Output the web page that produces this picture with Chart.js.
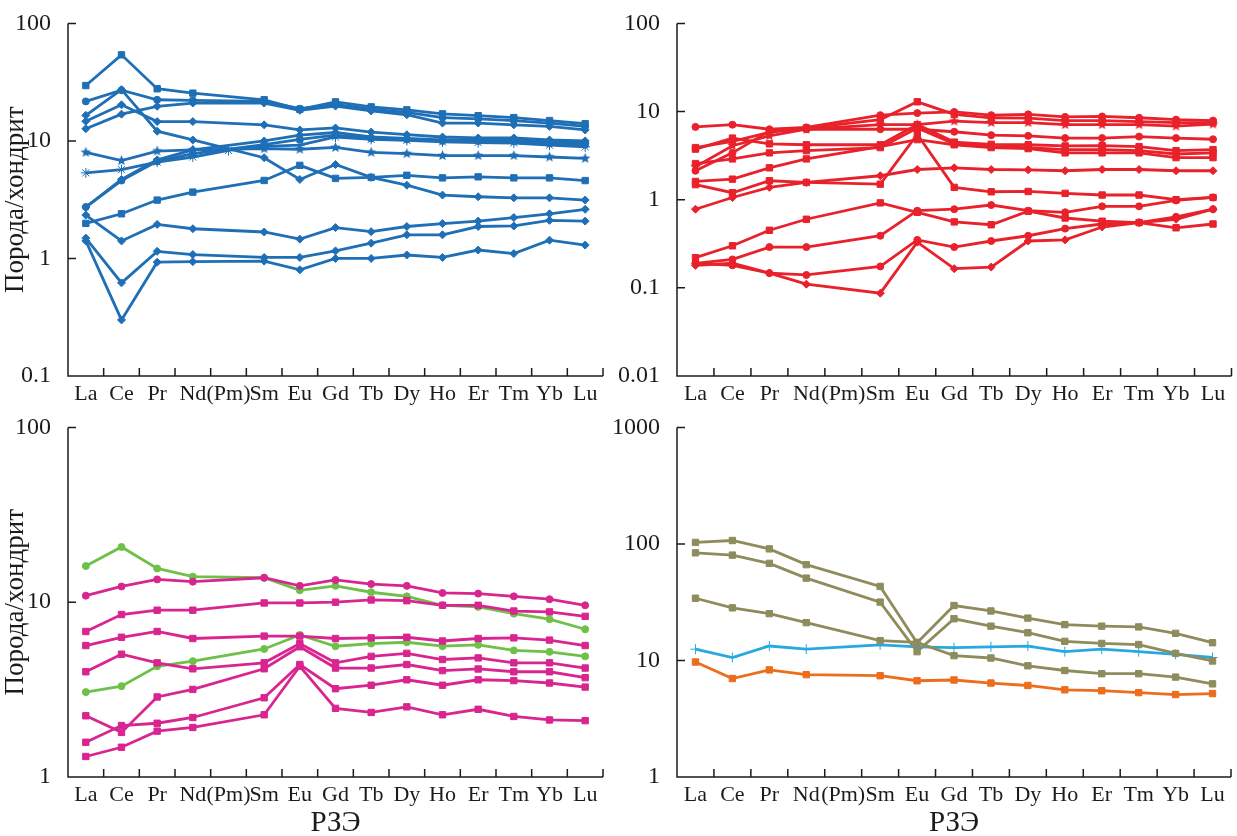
<!DOCTYPE html>
<html>
<head>
<meta charset="utf-8">
<script src="https://cdn.jsdelivr.net/npm/chart.js@4.4.0/dist/chart.umd.min.js"></script>
<style>
  html, body { margin: 0; padding: 0; background: #fff; }
  #wrap { position: relative; width: 1237px; height: 836px; overflow: hidden; }
  canvas { position: absolute; }
</style>
</head>
<body>
<div id="wrap">
  <canvas id="c1" width="620" height="412" style="left:0;top:0"></canvas>
  <canvas id="c2" width="637" height="412" style="left:600px;top:0"></canvas>
  <canvas id="c3" width="620" height="432" style="left:0;top:404px"></canvas>
  <canvas id="c4" width="637" height="432" style="left:600px;top:404px"></canvas>
</div>
<script>
// REE order, Pm is kept as an empty slot on the axis
const ree = ['La', 'Ce', 'Pr', 'Nd', '(Pm)', 'Sm', 'Eu', 'Gd', 'Tb', 'Dy', 'Ho', 'Er', 'Tm', 'Yb', 'Lu'];

const yTicksA = [0.1, 1, 10, 100];
const yTicksB = [0.01, 0.1, 1, 10, 100];
const yTicksC = [1, 10, 100];
const yTicksD = [1, 10, 100, 1000];

// panel 1 - blue samples
const blue1  = [29.6, 54, 27.8, 25.5, null, 22.4, 18.6, 21.5, 19.5, 18.4, 17.0, 16.4, 15.8, 14.9, 14.0];
const blue2  = [21.7, 27.0, 22.4, 22.1, null, 21.7, 18.8, 20.5, 18.6, 17.5, 15.8, 15.4, 14.9, 14.2, 13.3];
const blue3  = [12.7, 16.9, 19.7, 21.0, null, 21.0, 18.2, 19.8, 18.0, 16.7, 14.2, 14.2, 13.7, 13.3, 12.4];
const blue4  = [16.5, 27.3, 12.1, 10.2, null, 7.2, 4.7, 6.3, 4.9, 4.2, 3.46, 3.35, 3.28, 3.28, 3.14];
const blue5  = [14.7, 20.3, 14.6, 14.6, null, 13.7, 12.4, 12.9, 11.9, 11.3, 10.8, 10.6, 10.6, 10.2, 10.0];
const blue6  = [8.0, 6.8, 8.2, 8.4, null, 8.6, 8.5, 8.8, 8.0, 7.8, 7.5, 7.5, 7.5, 7.3, 7.1];
const blue7  = [5.35, 5.7, 6.6, 7.3, 8.3, 9.0, 9.2, 10.8, 10.3, 10.1, 9.8, 9.7, 9.6, 9.2, 8.9];
const blue8  = [2.74, 4.7, 6.9, 8.4, null, 10.0, 11.2, 11.8, 10.8, 10.5, 10.2, 10.2, 10.3, 9.8, 9.6];
const blue9  = [2.74, 4.6, 6.7, 7.8, null, 9.3, 10.3, 11.2, 10.5, 10.3, 10.0, 10.0, 9.9, 9.5, 9.3];
const blue10 = [1.99, 2.40, 3.14, 3.67, null, 4.61, 6.2, 4.8, 4.9, 5.1, 4.85, 4.95, 4.85, 4.85, 4.6];
const blue11 = [2.34, 1.41, 1.95, 1.79, null, 1.68, 1.46, 1.83, 1.69, 1.87, 1.98, 2.08, 2.23, 2.40, 2.62];
const blue12 = [1.49, 0.62, 1.15, 1.08, null, 1.02, 1.02, 1.16, 1.35, 1.59, 1.59, 1.87, 1.89, 2.11, 2.08];
const blue13 = [1.41, 0.30, 0.93, 0.94, null, 0.95, 0.80, 1.0, 1.0, 1.07, 1.02, 1.18, 1.10, 1.43, 1.30];

// panel 2 - red samples
const red1  = [6.7, 7.1, 6.3, 6.6, null, 9.1, 9.6, 9.9, 9.1, 9.3, 8.7, 8.8, 8.5, 8.1, 7.9];
const red2  = [3.9, 4.6, 5.8, 6.5, null, 8.1, 12.9, 9.3, 8.5, 8.4, 7.9, 7.9, 7.7, 7.5, 7.5];
const red3  = [2.36, 4.1, 5.3, 6.3, null, 7.1, 7.1, 7.8, 7.5, 7.5, 7.1, 7.1, 7.1, 6.85, 7.2];
const red4  = [2.13, 3.4, 6.0, 6.3, null, 6.3, 6.3, 5.9, 5.4, 5.3, 5.0, 5.0, 5.2, 5.0, 4.85];
const red5  = [3.75, 5.0, 4.3, 4.2, null, 4.2, 7.1, 4.5, 4.25, 4.2, 4.07, 4.1, 4.0, 3.6, 3.7];
const red6  = [2.57, 2.9, 3.4, 3.6, null, 3.9, 6.5, 4.3, 4.0, 3.9, 3.7, 3.7, 3.6, 3.3, 3.4];
const red7  = [1.61, 1.71, 2.3, 2.9, null, 4.0, 4.8, 4.2, 3.9, 3.8, 3.4, 3.4, 3.4, 3.0, 3.0];
const red8  = [1.48, 1.2, 1.64, 1.57, null, 1.5, 5.5, 1.38, 1.23, 1.24, 1.18, 1.13, 1.13, 1.0, 1.06];
const red9  = [0.78, 1.06, 1.38, 1.57, null, 1.87, 2.2, 2.3, 2.2, 2.18, 2.13, 2.2, 2.2, 2.13, 2.13];
const red10 = [0.22, 0.30, 0.45, 0.60, null, 0.92, 0.72, 0.56, 0.52, 0.74, 0.62, 0.57, 0.55, 0.48, 0.53];
const red11 = [0.19, 0.21, 0.29, 0.29, null, 0.39, 0.75, 0.78, 0.87, 0.75, 0.72, 0.84, 0.84, 0.98, 1.06];
const red12 = [0.19, 0.18, 0.147, 0.14, null, 0.175, 0.35, 0.29, 0.34, 0.39, 0.47, 0.53, 0.55, 0.64, 0.78];
const red13 = [0.18, 0.19, 0.147, 0.11, null, 0.087, 0.33, 0.165, 0.172, 0.34, 0.35, 0.49, 0.55, 0.60, 0.78];

// panel 3 - green and magenta samples
const green1 = [16.1, 20.7, 15.6, 14.0, null, 13.8, 11.7, 12.4, 11.4, 10.8, 9.6, 9.4, 8.6, 8.0, 7.0];
const green2 = [3.06, 3.31, 4.3, 4.6, null, 5.4, 6.5, 5.6, 5.8, 5.9, 5.6, 5.7, 5.3, 5.2, 4.9];
const mag1 = [10.9, 12.3, 13.5, 13.1, null, 13.8, 12.4, 13.4, 12.7, 12.4, 11.3, 11.2, 10.8, 10.4, 9.6];
const mag2 = [6.8, 8.5, 9.0, 9.0, null, 9.9, 9.9, 10.0, 10.3, 10.2, 9.6, 9.6, 8.9, 8.8, 8.3];
const mag3 = [5.65, 6.3, 6.8, 6.2, null, 6.4, 6.4, 6.2, 6.25, 6.3, 6.0, 6.2, 6.25, 6.07, 5.65];
const mag4 = [4.0, 5.04, 4.5, 4.16, null, 4.5, 5.8, 4.5, 4.9, 5.1, 4.7, 4.8, 4.5, 4.5, 4.2];
const mag5 = [2.24, 1.80, 2.87, 3.17, null, 4.16, 5.56, 4.2, 4.2, 4.4, 4.06, 4.15, 4.0, 4.0, 3.7];
const mag6 = [1.58, 1.97, 2.03, 2.19, null, 2.84, 4.4, 3.2, 3.35, 3.6, 3.35, 3.6, 3.56, 3.45, 3.27];
const mag7 = [1.31, 1.48, 1.83, 1.92, null, 2.27, 4.3, 2.47, 2.34, 2.52, 2.27, 2.44, 2.22, 2.12, 2.1];

// panel 4 - olive, cyan and orange samples
const olive1 = [103, 107, 90.7, 66.4, null, 43.2, 14.2, 29.6, 26.6, 23.1, 20.3, 19.7, 19.4, 17.1, 14.2];
const olive2 = [83.9, 80.2, 68.1, 50.9, null, 31.7, 11.9, 22.8, 19.7, 17.3, 14.6, 14.0, 13.7, 11.5, 9.9];
const olive3 = [34.2, 28.3, 25.2, 21.1, null, 14.8, 14.3, 11.0, 10.5, 9.0, 8.2, 7.7, 7.7, 7.2, 6.3];
const cyan1  = [12.5, 10.6, 13.3, 12.5, null, 13.6, 13.1, 12.9, 13.1, 13.3, 11.9, 12.5, 11.9, 11.3, 10.6];
const orange1 = [9.7, 7.0, 8.3, 7.55, null, 7.4, 6.7, 6.8, 6.4, 6.1, 5.6, 5.5, 5.3, 5.1, 5.2];

const SERIF = "'Liberation Serif', 'Times New Roman', serif";
const INK = '#1b1b1b';

const BLUE = '#1f6fb6';
const RED = '#e8212b';
const GREEN = '#6ec049';
const MAGENTA = '#d9258f';
const OLIVE = '#8e8c5c';
const CYAN = '#27a9df';
const ORANGE = '#ec6d1c';

// five pointed star marker
function starMarker(color, r) {
  const c = document.createElement('canvas');
  const s = Math.ceil(r * 2 + 2);
  c.width = c.height = s;
  const g = c.getContext('2d');
  g.fillStyle = color;
  g.beginPath();
  for (let i = 0; i < 10; i++) {
    const rad = i % 2 ? r * 0.45 : r;
    const ang = -Math.PI / 2 + i * Math.PI / 5;
    g.lineTo(s / 2 + rad * Math.cos(ang), s / 2 + rad * Math.sin(ang));
  }
  g.closePath();
  g.fill();
  return c;
}

function series(data, color, style, radius) {
  return {
    data: data,
    borderColor: color,
    backgroundColor: color,
    pointBackgroundColor: color,
    pointBorderColor: color,
    pointStyle: style,
    pointRadius: radius || 4,
    pointBorderWidth: 1,
    borderWidth: 2.8,
    spanGaps: true,
    tension: 0
  };
}

// axis lines with inward tick marks
const axisFrame = {
  id: 'axisFrame',
  afterDraw(chart) {
    const { ctx, chartArea: a, scales: { x, y } } = chart;
    ctx.save();
    ctx.strokeStyle = INK;
    ctx.lineWidth = 1.5;
    ctx.beginPath();
    ctx.moveTo(a.left, a.top);
    ctx.lineTo(a.left, a.bottom);
    ctx.lineTo(a.right, a.bottom);
    const n = x.getLabels().length;
    for (let i = 1; i <= n; i++) {
      const px = i < n ? (x.getPixelForValue(i - 1) + x.getPixelForValue(i)) / 2 : a.right;
      ctx.moveTo(px, a.bottom);
      ctx.lineTo(px, a.bottom - 8);
    }
    y.ticks.forEach(t => {
      const py = y.getPixelForValue(t.value);
      ctx.moveTo(a.left, py);
      ctx.lineTo(a.left + 8, py);
    });
    ctx.stroke();
    ctx.restore();
  }
};

function makePanel(id, datasets, cfg) {
  new Chart(document.getElementById(id), {
    type: 'line',
    data: { labels: ree, datasets: datasets },
    plugins: [axisFrame],
    options: {
      responsive: false,
      animation: false,
      layout: { padding: { top: cfg.padTop, right: cfg.padRight, left: 0, bottom: 0 } },
      plugins: { legend: { display: false }, tooltip: { enabled: false } },
      scales: {
        x: {
          type: 'category',
          offset: true,
          grid: { display: false },
          border: { display: false },
          ticks: {
            autoSkip: false, maxRotation: 0, minRotation: 0, padding: -3,
            color: INK, font: { family: SERIF, size: 22 }
          },
          title: {
            display: !!cfg.xTitle, text: cfg.xTitle || '', color: INK,
            font: { family: SERIF, size: 29, lineHeight: 0.9 }, padding: 0
          },
          afterFit: s => { s.height = cfg.xHeight; }
        },
        y: {
          type: 'logarithmic',
          min: cfg.yTicks[0],
          max: cfg.yTicks[cfg.yTicks.length - 1],
          grid: { display: false },
          border: { display: false },
          ticks: {
            padding: 9, color: INK, font: { family: SERIF, size: 24 },
            callback: v => String(v)
          },
          afterBuildTicks: s => { s.ticks = cfg.yTicks.map(v => ({ value: v })); },
          title: {
            display: !!cfg.yTitle, text: cfg.yTitle || '', color: INK,
            font: { family: SERIF, size: 27 }, padding: 0
          },
          afterFit: s => { s.width = cfg.yWidth; }
        }
      }
    }
  });
}

const blueStar = starMarker(BLUE, 5.5);
const redStar = starMarker(RED, 5.5);

makePanel('c1', [
  series(blue1, BLUE, 'rect', 4.5),
  series(blue2, BLUE, 'circle', 3.5),
  series(blue3, BLUE, 'rectRot'),
  series(blue4, BLUE, 'rectRot'),
  series(blue5, BLUE, 'rectRot'),
  series(blue6, BLUE, blueStar),
  series(blue7, BLUE, 'star', 5),
  series(blue8, BLUE, 'rectRot'),
  series(blue9, BLUE, 'circle', 3.5),
  series(blue10, BLUE, 'rect', 4.5),
  series(blue11, BLUE, 'rectRot'),
  series(blue12, BLUE, 'rectRot'),
  series(blue13, BLUE, 'rectRot')
], { padTop: 22, padRight: 17, yWidth: 68, xHeight: 36, yTicks: yTicksA, yTitle: 'Порода/хондрит' });

makePanel('c2', [
  series(red1, RED, 'circle', 3.5),
  series(red2, RED, 'rect', 4.5),
  series(red3, RED, redStar),
  series(red4, RED, 'circle', 3.5),
  series(red5, RED, 'rect', 4.5),
  series(red6, RED, 'rect', 4.5),
  series(red7, RED, 'rect', 4.5),
  series(red8, RED, 'rect', 4.5),
  series(red9, RED, 'rectRot'),
  series(red10, RED, 'rect', 4.5),
  series(red11, RED, 'circle', 3.5),
  series(red12, RED, 'circle', 3.5),
  series(red13, RED, 'rectRot')
], { padTop: 22, padRight: 5, yWidth: 77, xHeight: 36, yTicks: yTicksB });

makePanel('c3', [
  series(mag1, MAGENTA, 'circle', 3.5),
  series(mag2, MAGENTA, 'rect', 4.5),
  series(mag3, MAGENTA, 'rect', 4.5),
  series(mag4, MAGENTA, 'rect', 4.5),
  series(mag5, MAGENTA, 'rect', 4.5),
  series(mag6, MAGENTA, 'rect', 4.5),
  series(mag7, MAGENTA, 'rect', 4.5),
  series(green1, GREEN, 'circle', 3.5),
  series(green2, GREEN, 'circle', 3.5)
], { padTop: 19, padRight: 17, yWidth: 68, xHeight: 59, yTicks: yTicksC, yTitle: 'Порода/хондрит', xTitle: 'РЗЭ' });

makePanel('c4', [
  series(olive1, OLIVE, 'rect', 4.5),
  series(olive2, OLIVE, 'rect', 4.5),
  series(olive3, OLIVE, 'rect', 4.5),
  series(cyan1, CYAN, 'cross', 5),
  series(orange1, ORANGE, 'rect', 4.5)
], { padTop: 19, padRight: 5, yWidth: 77, xHeight: 59, yTicks: yTicksD, xTitle: 'РЗЭ' });
</script>
</body>
</html>
